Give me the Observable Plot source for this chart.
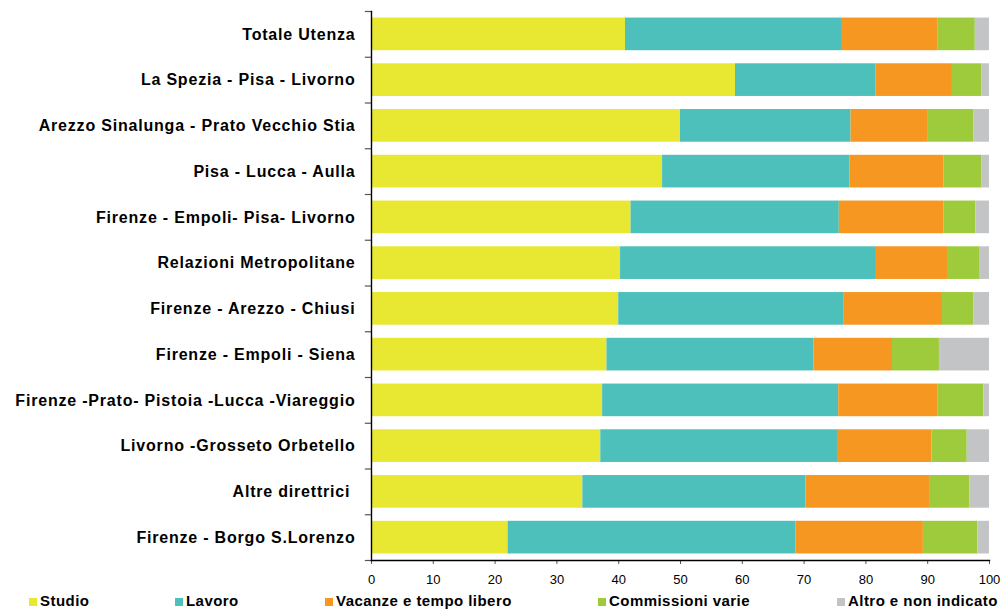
<!DOCTYPE html>
<html>
<head>
<meta charset="utf-8">
<script src="https://cdn.jsdelivr.net/npm/d3@7"></script>
<script src="https://cdn.jsdelivr.net/npm/@observablehq/plot@0.6"></script>
<style>
  html, body { margin: 0; padding: 0; background: #fff; }
  body { font-family: "Liberation Sans", Arial, sans-serif; width: 1003px; height: 610px; overflow: hidden; }
  #wrap { position: relative; width: 1003px; height: 610px; }
  #legend { position: absolute; left: 0; top: 592px; width: 1003px; height: 18px; }
  .item { position: absolute; top: 0; font-weight: bold; font-size: 15px; letter-spacing: 0.45px; color: #000; white-space: nowrap; line-height: 18px; }
  .sw { position: absolute; top: 6px; width: 8px; height: 8px; }
  .lab { position: absolute; left: 11px; top: 0; }
</style>
</head>
<body>
<div id="wrap"><div id="chart"></div><div id="legend"></div></div>
<script>
const categories = [
  "Totale Utenza",
  "La Spezia - Pisa - Livorno",
  "Arezzo Sinalunga - Prato Vecchio Stia",
  "Pisa - Lucca - Aulla",
  "Firenze - Empoli- Pisa- Livorno",
  "Relazioni Metropolitane",
  "Firenze - Arezzo - Chiusi",
  "Firenze - Empoli - Siena",
  "Firenze -Prato- Pistoia -Lucca -Viareggio",
  "Livorno -Grosseto Orbetello",
  "Altre direttrici ",
  "Firenze - Borgo S.Lorenzo"
];
const types = ["Studio", "Lavoro", "Vacanze e tempo libero", "Commissioni varie", "Altro e non indicato"];
const studio      = [41.1, 58.9, 50.0, 47.1, 42.0, 40.3, 40.0, 38.1, 37.4, 37.1, 34.2, 22.1];
const lavoro      = [35.1, 22.7, 27.6, 30.3, 33.7, 41.4, 36.4, 33.5, 38.2, 38.3, 36.1, 46.6];
const vacanze     = [15.5, 12.4, 12.5, 15.2, 16.9, 11.5, 16.0, 12.7, 16.1, 15.3, 20.0, 20.6];
const commissioni = [ 6.0,  4.8,  7.4,  6.2,  5.2,  5.3,  5.1,  7.6,  7.4,  5.7,  6.5,  8.8];
const altro       = [ 2.3,  1.2,  2.5,  1.2,  2.2,  1.5,  2.5,  8.1,  0.9,  3.6,  3.2,  1.9];
const xTicks = [0, 10, 20, 30, 40, 50, 60, 70, 80, 90, 100];
const colors = ["#e8e832", "#4dc0bb", "#f59721", "#9dcb3c", "#c3c4c5"];

const series = [studio, lavoro, vacanze, commissioni, altro];
const data = [];
categories.forEach((c, i) => {
  types.forEach((t, j) => data.push({cat: c, type: t, value: series[j][i]}));
});

const H = 592, marginTop = 11, marginBottom = 32;
const step = (H - marginTop - marginBottom) / categories.length;

const chart = Plot.plot({
  width: 1003,
  height: H,
  marginLeft: 371,
  marginRight: 14,
  marginTop,
  marginBottom,
  style: {fontFamily: "'Liberation Sans', Arial, sans-serif", color: "#000", background: "#fff"},
  x: {domain: [0, 100]},
  y: {domain: categories, paddingInner: 0.286, paddingOuter: 0.143, round: false},
  color: {domain: types, range: colors},
  marks: [
    Plot.barX(data, Plot.stackX({x: "value", y: "cat", fill: "type", order: types})),
    Plot.ruleY(categories, {y: d => d, x1: -1, x2: 0, dy: -step / 2, stroke: "#555", strokeWidth: 1.2}),
    Plot.ruleY(categories.slice(-1), {y: d => d, x1: -1, x2: 0, dy: step / 2, stroke: "#555", strokeWidth: 1.2}),
    Plot.axisY({tickSize: 0, tickPadding: 16, fontSize: 16, fontWeight: "bold", label: null,
      tickFormat: d => d.replace(/ $/, "\u00a0")}),
    Plot.axisX({ticks: xTicks, tickSize: 4, tickPadding: 10, fontSize: 13, label: null, stroke: "#555"}),
    Plot.frame({anchor: "left", stroke: "#000", strokeWidth: 1.4}),
    Plot.frame({anchor: "bottom", stroke: "#000", strokeWidth: 1.4})
  ]
});
d3.select(chart).selectAll('g[aria-label="y-axis tick label"] text').style("letter-spacing", "0.8px");
document.getElementById("chart").appendChild(chart);

const legendLeft = [29, 175, 325, 598, 837];
const legend = d3.select("#legend");
types.forEach((t, i) => {
  const it = legend.append("div").attr("class", "item").style("left", legendLeft[i] + "px");
  it.append("div").attr("class", "sw").style("background", colors[i]);
  it.append("div").attr("class", "lab").text(t);
});
</script>
</body>
</html>
